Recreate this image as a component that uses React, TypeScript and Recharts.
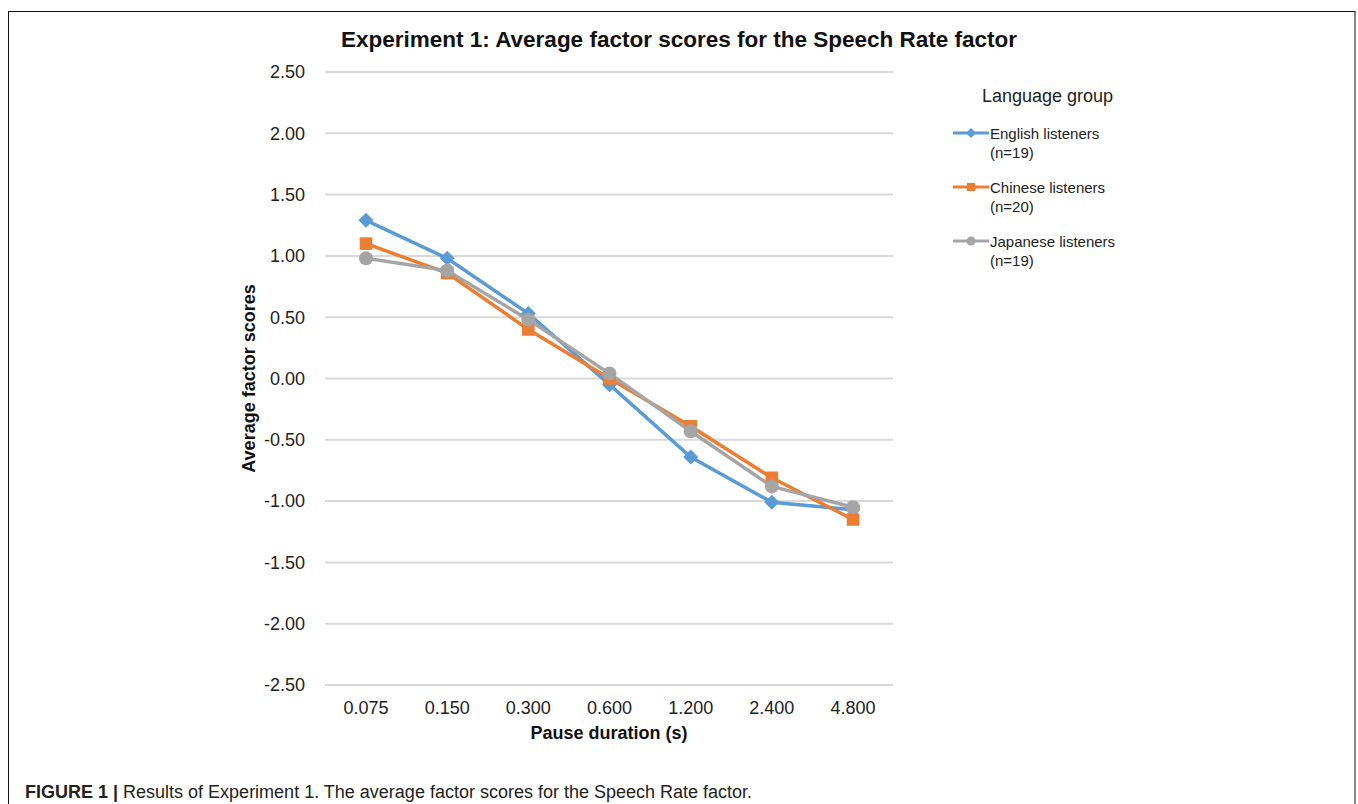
import { CartesianGrid, Label, Line, LineChart, XAxis, YAxis } from "recharts"

const pauses = ["0.075", "0.150", "0.300", "0.600", "1.200", "2.400", "4.800"]
const english = [1.29, 0.98, 0.53, -0.05, -0.64, -1.01, -1.07]
const chinese = [1.1, 0.86, 0.4, 0.0, -0.39, -0.81, -1.15]
const japanese = [0.98, 0.88, 0.48, 0.04, -0.43, -0.88, -1.05]
const yTicks = [2.5, 2, 1.5, 1, 0.5, 0, -0.5, -1, -1.5, -2, -2.5]

const groups = [
  { key: "english", name: "English listeners", n: "(n=19)", color: "#5b9bd5", shape: "diamond" },
  { key: "chinese", name: "Chinese listeners", n: "(n=20)", color: "#ed7d31", shape: "square" },
  { key: "japanese", name: "Japanese listeners", n: "(n=19)", color: "#a5a5a5", shape: "circle" },
]

const data = pauses.map((p, i) => ({
  pause: p,
  english: english[i],
  chinese: chinese[i],
  japanese: japanese[i],
}))

const font = "'Liberation Sans', Arial, sans-serif"

function Marker({ cx, cy, shape, color, s }: any) {
  if (cx == null || cy == null) return null
  if (shape === "diamond")
    return <polygon points={`${cx},${cy - s} ${cx + s},${cy} ${cx},${cy + s} ${cx - s},${cy}`} fill={color} />
  if (shape === "square")
    return <rect x={cx - s * 0.9} y={cy - s * 0.9} width={s * 1.8} height={s * 1.8} fill={color} />
  return <circle cx={cx} cy={cy} r={s} fill={color} />
}

function LegendBox() {
  return (
    <div style={{ position: "absolute", left: 953, top: 86, fontFamily: font, color: "#222" }}>
      <div style={{ fontSize: 18, marginLeft: 29, marginBottom: 17 }}>Language group</div>
      {groups.map((g) => (
        <div key={g.key} style={{ display: "flex", alignItems: "flex-start", marginBottom: 16 }}>
          <svg width={36} height={16} style={{ marginTop: 1 }}>
            <line x1={0} y1={8} x2={36} y2={8} stroke={g.color} strokeWidth={3} />
            <Marker cx={18} cy={8} shape={g.shape} color={g.color} s={g.shape === "diamond" ? 5 : 4.5} />
          </svg>
          <div style={{ fontSize: 15, lineHeight: "19px", marginLeft: 1 }}>
            <div>{g.name}</div>
            <div>{g.n}</div>
          </div>
        </div>
      ))}
    </div>
  )
}

export default function App() {
  return (
    <div style={{ position: "absolute", left: 0, top: 0, width: 1358, height: 804, background: "#fff", overflow: "hidden" }}>
      <div
        style={{
          position: "absolute",
          left: 8,
          top: 11,
          width: 1345,
          height: 820,
          borderLeft: "1px solid #111",
          borderTop: "1px solid #111",
          borderRight: "2px solid #888",
        }}
      />
      <div
        style={{
          position: "absolute",
          left: 0,
          top: 27,
          width: 1358,
          textAlign: "center",
          fontFamily: font,
          fontWeight: "bold",
          fontSize: 22.5,
          color: "#111",
        }}
      >
        Experiment 1: Average factor scores for the Speech Rate factor
      </div>
      <div style={{ position: "absolute", left: 0, top: 0 }}>
        <LineChart width={1358} height={804} data={data} margin={{ top: 72, right: 465, bottom: 89, left: 165 }}>
          <CartesianGrid horizontal vertical={false} stroke="#d9d9d9" strokeWidth={2} />
          <XAxis
            dataKey="pause"
            axisLine={false}
            tickLine={false}
            height={30}
            tickMargin={10}
            padding={{ left: 41, right: 40 }}
            tick={{ fill: "#222", fontSize: 18, fontFamily: font }}
          >
            <Label value="Pause duration (s)" position="insideBottom" offset={-24} style={{ fill: "#111", fontSize: 18, fontWeight: "bold", fontFamily: font }} />
          </XAxis>
          <YAxis
            type="number"
            domain={[-2.5, 2.5]}
            ticks={yTicks}
            width={160}
            axisLine={false}
            tickLine={false}
            tickMargin={14}
            tickFormatter={(v: number) => v.toFixed(2)}
            tick={{ fill: "#222", fontSize: 18, fontFamily: font }}
          >
            <Label value="Average factor scores" angle={-90} position="insideLeft" offset={84} style={{ textAnchor: "middle", fill: "#111", fontSize: 18, fontWeight: "bold", fontFamily: font }} />
          </YAxis>
          {groups.map((g) => (
            <Line
              key={g.key}
              dataKey={g.key}
              name={g.name}
              stroke={g.color}
              strokeWidth={3.5}
              isAnimationActive={false}
              dot={(p: any) => (
                <Marker key={`${g.key}-${p.index}`} cx={p.cx} cy={p.cy} shape={g.shape} color={g.color} s={g.shape === "diamond" ? 7.5 : 7} />
              )}
              activeDot={false}
            />
          ))}
        </LineChart>
      </div>
      <LegendBox />
      <div style={{ position: "absolute", left: 25, top: 782, fontFamily: font, fontSize: 18, color: "#222" }}>
        <b>FIGURE 1 |</b> Results of Experiment 1. The average factor scores for the Speech Rate factor.
      </div>
    </div>
  )
}
